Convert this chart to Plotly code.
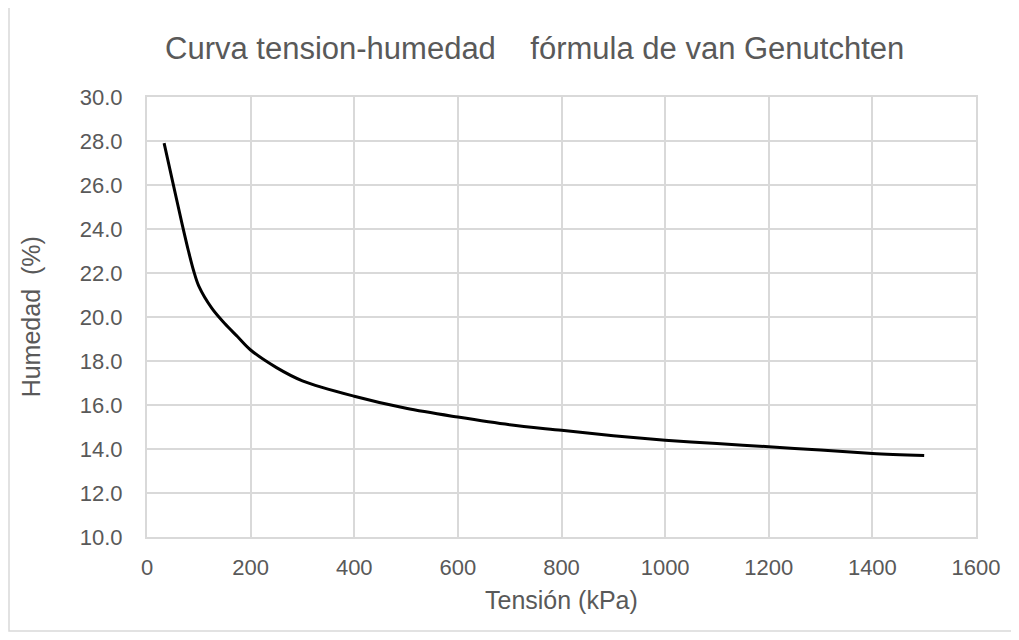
import plotly.graph_objects as go

# valores
tension_kpa = [33, 50, 68, 80, 90, 100, 125, 150, 175, 200, 250, 300, 400, 500,
               600, 700, 800, 900, 1000, 1100, 1200, 1300, 1400, 1500]
humedad_pct = [27.9, 26.1, 24.2, 23.0, 22.1, 21.4, 20.4, 19.7, 19.1, 18.5, 17.7, 17.1, 16.4, 15.85,
               15.45, 15.1, 14.85, 14.6, 14.4, 14.25, 14.1, 13.95, 13.8, 13.7]

x_ticks = [0, 200, 400, 600, 800, 1000, 1200, 1400, 1600]
y_ticks = [10, 12, 14, 16, 18, 20, 22, 24, 26, 28, 30]

FONT = "Liberation Sans, Arial"
GRAY = "#595959"
GRID = "#d9d9d9"

fig = go.Figure()
fig.add_trace(go.Scatter(
    x=tension_kpa, y=humedad_pct, mode="lines",
    line=dict(color="black", width=3, shape="spline", smoothing=0.9),
    showlegend=False,
))

nb = "\u00a0"
fig.update_layout(
    width=1019, height=640,
    margin=dict(l=139, r=51, t=89, b=111),
    paper_bgcolor="white", plot_bgcolor="white",
    font=dict(family=FONT, color=GRAY, size=22),
    xaxis=dict(
        range=[0, 1600], tickvals=x_ticks, ticktext=[str(v) for v in x_ticks],
        showgrid=True, gridcolor=GRID, gridwidth=2,
        showline=True, linecolor=GRID, linewidth=2, mirror=True, zeroline=False,
        ticks="", ticklabelstandoff=10,
    ),
    yaxis=dict(
        range=[10, 30], tickvals=y_ticks, ticktext=[f"{v:.1f}" for v in y_ticks],
        showgrid=True, gridcolor=GRID, gridwidth=2,
        showline=True, linecolor=GRID, linewidth=2, mirror=True, zeroline=False,
        ticks="", ticklabelstandoff=18,
    ),
)

# titulos como anotaciones para fijar su posicion
fig.add_annotation(text=f"Curva tension-humedad{nb*3} fórmula de van Genutchten",
                   xref="paper", yref="paper", x=0.468, y=1.111,
                   xanchor="center", yanchor="middle", showarrow=False,
                   font=dict(size=31, color=GRAY))
fig.add_annotation(text="Tensión (kPa)", xref="paper", yref="paper",
                   x=0.5, y=-0.143, xanchor="center", yanchor="middle",
                   showarrow=False, font=dict(size=25, color=GRAY))
fig.add_annotation(text=f"Humedad{nb} (%)", xref="paper", yref="paper",
                   x=-0.1395, y=0.5, xanchor="center", yanchor="middle",
                   textangle=-90, showarrow=False, font=dict(size=25, color=GRAY))

# marco exterior del grafico
fig.add_shape(type="rect", xref="paper", yref="paper",
              x0=-138 / 829, x1=1 + 36 / 829, y0=-94 / 440, y1=1 + 96 / 440,
              line=dict(color=GRID, width=1.5), fillcolor="rgba(0,0,0,0)", layer="below")

fig.write_html("out.html")
